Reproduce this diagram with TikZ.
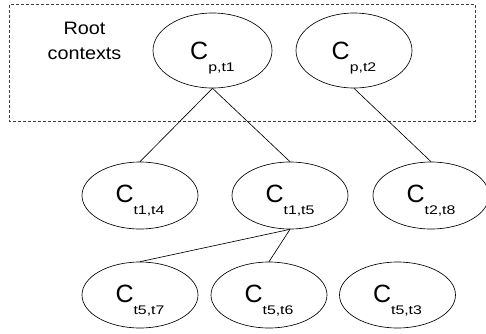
\documentclass[tikz,border=0pt]{standalone}
\usepackage{fontspec}
\setmainfont{Liberation Sans}
\usepackage{graphicx}
\usetikzlibrary{shapes.geometric}

% Context label: a large C with a stretched subscript hanging below its baseline
\newcommand{\ctxlabel}[2]{\raisebox{#2}{{\fontsize{25}{25}\selectfont C}\smash{\raisebox{-12.5pt}{\scalebox{1.27}[1]{\fontsize{12.5}{12.5}\selectfont #1}}}}}

\tikzset{
  ctx/.style={draw, ellipse, line width=0.65pt, inner sep=0pt,
    minimum width=116pt, minimum height=67pt},
  toprow/.style={minimum height=75pt},
  link/.style={line width=0.65pt},
  rootbox/.style={draw=black!75, line width=0.65pt, dash pattern=on 3pt off 2pt}
}

\begin{document}
\begin{tikzpicture}[x=1pt, y=-1pt]
  \clip (0,0) rectangle (486,333);
  \useasboundingbox (0,0) rectangle (486,333);

  % dashed frame around the root contexts
  \draw[rootbox] (9.5,4.5) rectangle (475,121);
  \node[align=center, inner sep=0pt, font=\fontsize{18}{25}\selectfont] (rootlbl) at (84.5,40.5)
    {\scalebox{1.1}[1]{Root}\\\scalebox{1.1}[1]{contexts}};

  % root contexts
  \node[ctx, toprow, minimum width=119pt] (pt1) at (212.5,50.5) {\ctxlabel{p,t1}{-1pt}};
  \node[ctx, toprow] (pt2) at (354,50.5) {\ctxlabel{p,t2}{-1pt}};

  % second level
  \node[ctx] (t1t4) at (140,195.5) {\ctxlabel{t1,t4}{3.5pt}};
  \node[ctx] (t1t5) at (290,195.5) {\ctxlabel{t1,t5}{3.5pt}};
  \node[ctx] (t2t8) at (431,195.5) {\ctxlabel{t2,t8}{3.5pt}};

  % third level
  \node[ctx, minimum height=66pt] (t5t7) at (140,295) {\ctxlabel{t5,t7}{3pt}};
  \node[ctx, minimum height=66pt] (t5t6) at (269,295) {\ctxlabel{t5,t6}{3pt}};
  \node[ctx, minimum height=66pt] (t5t3) at (397.5,295) {\ctxlabel{t5,t3}{3pt}};

  % parent-child links
  \draw[link] (pt1.south) -- (t1t4.north);
  \draw[link] (pt1.south) -- (t1t5.north);
  \draw[link] (pt2.south) -- (t2t8.north);
  \draw[link] (t1t5.south) -- (t5t7.north);
  \draw[link] (t1t5.south) -- (t5t6.north);
\end{tikzpicture}
\end{document}
